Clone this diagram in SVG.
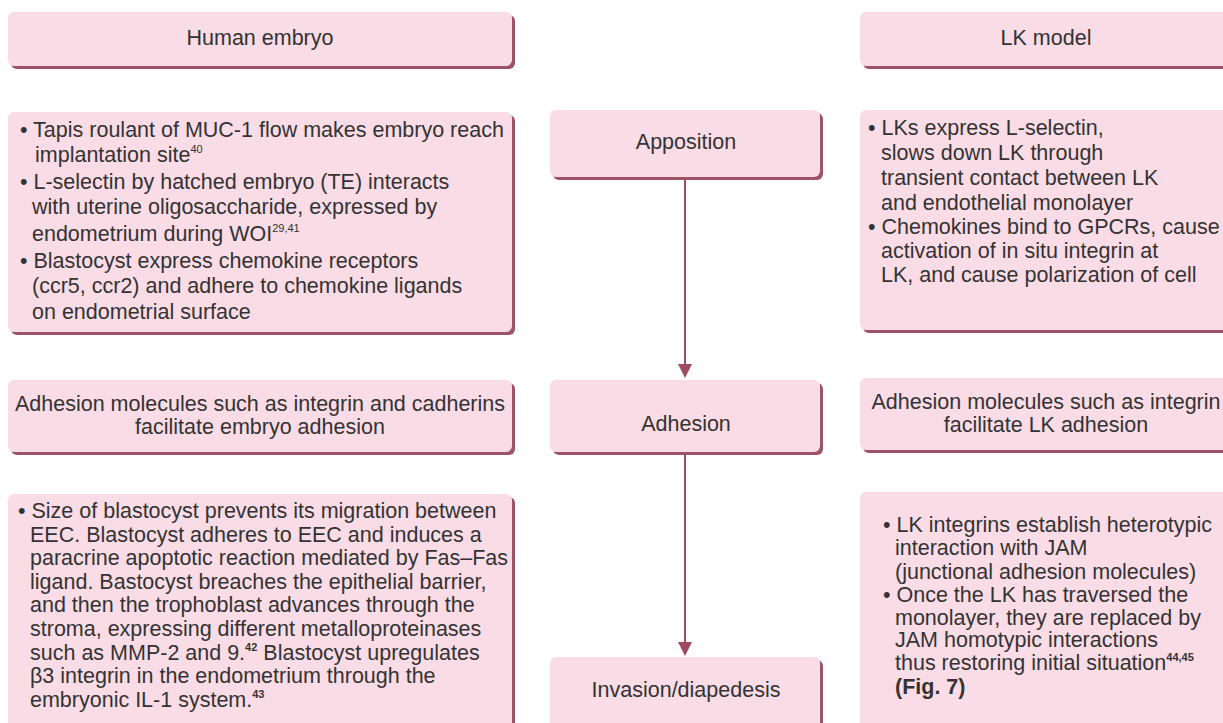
<svg xmlns="http://www.w3.org/2000/svg" width="1223" height="723" viewBox="0 0 1223 723">
  <defs>
    <style>
      .sh { fill: #9d5266; }
      .bx { fill: #fadce6; }
      text { font-family: "Liberation Sans", Arial, Helvetica, sans-serif; font-size: 21.5px; fill: #333333; }
      .c { text-anchor: middle; }
      .sup { font-size: 11px; }
      .b { font-weight: bold; }
      .link { stroke: #a04a60; stroke-width: 2; fill: none; }
      .head { fill: #a04a60; }
    </style>
  </defs>
  <rect width="1223" height="723" fill="#ffffff"/>

  <!-- column headers -->
  <g id="hdr-human">
    <rect class="sh" x="11" y="15" width="504" height="54" rx="6"/>
    <rect class="bx" x="8" y="12" width="504" height="54" rx="6"/>
    <text class="c" x="260" y="45">Human embryo</text>
  </g>
  <g id="hdr-lk">
    <rect class="sh" x="863" y="15" width="372" height="54" rx="6"/>
    <rect class="bx" x="860" y="12" width="372" height="54" rx="6"/>
    <text class="c" x="1046" y="45">LK model</text>
  </g>

  <!-- apposition row -->
  <g id="human-apposition">
    <rect class="sh" x="11" y="115" width="504" height="220" rx="6"/>
    <rect class="bx" x="8" y="112" width="504" height="220" rx="6"/>
    <text x="20" y="137">• Tapis roulant of MUC-1 flow makes embryo reach</text>
    <text x="35" y="162">implantation site<tspan class="sup" dy="-9">40</tspan></text>
    <text x="20" y="189">• L-selectin by hatched embryo (TE) interacts</text>
    <text x="32" y="214">with uterine oligosaccharide, expressed by</text>
    <text x="32" y="241">endometrium during WOI<tspan class="sup" dy="-9">29,41</tspan></text>
    <text x="20" y="268">• Blastocyst express chemokine receptors</text>
    <text x="32" y="293">(ccr5, ccr2) and adhere to chemokine ligands</text>
    <text x="32" y="319">on endometrial surface</text>
  </g>
  <g id="apposition">
    <rect class="sh" x="553" y="113" width="270" height="67" rx="6"/>
    <rect class="bx" x="550" y="110" width="270" height="67" rx="6"/>
    <text class="c" x="686" y="149">Apposition</text>
  </g>
  <g id="lk-apposition">
    <rect class="sh" x="863" y="113" width="372" height="220" rx="6"/>
    <rect class="bx" x="860" y="110" width="372" height="220" rx="6"/>
    <text x="868" y="135">• LKs express L-selectin,</text>
    <text x="881" y="160">slows down LK through</text>
    <text x="881" y="185">transient contact between LK</text>
    <text x="881" y="210">and endothelial monolayer</text>
    <text x="868" y="234">• Chemokines bind to GPCRs, cause</text>
    <text x="881" y="258">activation of in situ integrin at</text>
    <text x="881" y="282">LK, and cause polarization of cell</text>
  </g>

  <!-- adhesion row -->
  <g id="human-adhesion">
    <rect class="sh" x="11" y="383" width="504" height="72" rx="6"/>
    <rect class="bx" x="8" y="380" width="504" height="72" rx="6"/>
    <text class="c" x="260" y="411">Adhesion molecules such as integrin and cadherins</text>
    <text class="c" x="260" y="434">facilitate embryo adhesion</text>
  </g>
  <g id="adhesion">
    <rect class="sh" x="553" y="383" width="270" height="72" rx="6"/>
    <rect class="bx" x="550" y="380" width="270" height="72" rx="6"/>
    <text class="c" x="686" y="431">Adhesion</text>
  </g>
  <g id="lk-adhesion">
    <rect class="sh" x="863" y="381" width="372" height="72" rx="6"/>
    <rect class="bx" x="860" y="378" width="372" height="72" rx="6"/>
    <text class="c" x="1046" y="409">Adhesion molecules such as integrin</text>
    <text class="c" x="1046" y="432">facilitate LK adhesion</text>
  </g>

  <!-- invasion row -->
  <g id="human-invasion">
    <rect class="sh" x="11" y="497" width="504" height="240" rx="6"/>
    <rect class="bx" x="8" y="494" width="504" height="240" rx="6"/>
    <text x="18" y="518">• Size of blastocyst prevents its migration between</text>
    <text x="30" y="542">EEC. Blastocyst adheres to EEC and induces a</text>
    <text x="30" y="565">paracrine apoptotic reaction mediated by Fas–Fas</text>
    <text x="30" y="589">ligand. Bastocyst breaches the epithelial barrier,</text>
    <text x="30" y="612">and then the trophoblast advances through the</text>
    <text x="30" y="636">stroma, expressing different metalloproteinases</text>
    <text x="30" y="660">such as MMP-2 and 9.<tspan class="sup b" dy="-9">42</tspan><tspan dy="9"> Blastocyst upregulates</tspan></text>
    <text x="30" y="683">β3 integrin in the endometrium through the</text>
    <text x="30" y="707">embryonic IL-1 system.<tspan class="sup b" dy="-9">43</tspan></text>
  </g>
  <g id="invasion">
    <rect class="sh" x="553" y="660" width="270" height="80" rx="6"/>
    <rect class="bx" x="550" y="657" width="270" height="80" rx="6"/>
    <text class="c" x="686" y="697">Invasion/diapedesis</text>
  </g>
  <g id="lk-invasion">
    <rect class="sh" x="863" y="495" width="372" height="240" rx="6"/>
    <rect class="bx" x="860" y="492" width="372" height="240" rx="6"/>
    <text x="883" y="532">• LK integrins establish heterotypic</text>
    <text x="895" y="555">interaction with JAM</text>
    <text x="895" y="579">(junctional adhesion molecules)</text>
    <text x="883" y="602">• Once the LK has traversed the</text>
    <text x="895" y="625">monolayer, they are replaced by</text>
    <text x="895" y="647">JAM homotypic interactions</text>
    <text x="895" y="670">thus restoring initial situation<tspan class="sup b" dy="-9">44,45</tspan></text>
    <text class="b" x="895" y="694">(Fig. 7)</text>
  </g>

  <!-- connectors -->
  <g id="connectors">
    <line class="link" x1="685" y1="180" x2="685" y2="366"/>
    <polygon class="head" points="678,364 692,364 685,378"/>
    <line class="link" x1="685" y1="455" x2="685" y2="644"/>
    <polygon class="head" points="678,642 692,642 685,656"/>
  </g>
</svg>
